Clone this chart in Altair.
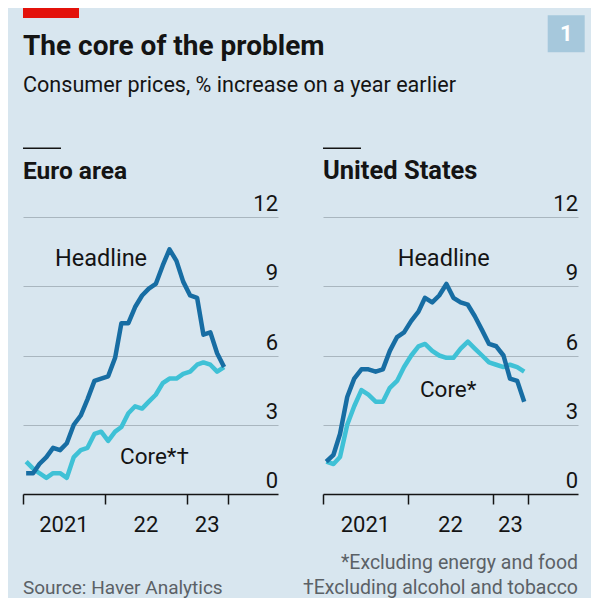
import altair as alt
import pandas as pd

# ---------------- data ----------------
ea_headline = [0.9, 0.9, 1.3, 1.6, 2.0, 1.9, 2.2, 3.0, 3.4, 4.1, 4.9, 5.0,
               5.1, 5.9, 7.4, 7.4, 8.1, 8.6, 8.9, 9.1, 9.9, 10.6, 10.1, 9.2,
               8.6, 8.5, 6.9, 7.0, 6.1, 5.5]
ea_core = [1.4, 1.1, 0.9, 0.7, 0.9, 0.9, 0.7, 1.6, 1.9, 2.0, 2.6, 2.7,
           2.3, 2.7, 2.9, 3.5, 3.8, 3.7, 4.0, 4.3, 4.8, 5.0, 5.0, 5.2,
           5.3, 5.6, 5.7, 5.6, 5.3, 5.5]
us_headline = [1.4, 1.7, 2.6, 4.2, 5.0, 5.4, 5.4, 5.3, 5.4, 6.2, 6.8, 7.0,
               7.5, 7.9, 8.5, 8.3, 8.6, 9.1, 8.5, 8.3, 8.2, 7.7, 7.1, 6.5,
               6.4, 6.0, 5.0, 4.9, 4.0]
us_core = [1.4, 1.3, 1.6, 3.0, 3.8, 4.5, 4.3, 4.0, 4.0, 4.6, 4.9, 5.5,
           6.0, 6.4, 6.5, 6.2, 6.0, 5.9, 5.9, 6.3, 6.6, 6.3, 6.0, 5.7,
           5.6, 5.5, 5.6, 5.5, 5.3]
y_ticks = [0, 3, 6, 9, 12]
y_tick_labels = ["0", "3", "6", "9", "12"]
year_labels = ["2021", "22", "23"]

TITLE = "The core of the problem"
SUBTITLE = "Consumer prices, % increase on a year earlier"

# ---------------- style ----------------
BG = "#d8e6ef"
DARK = "#176da3"
CYAN = "#3fc1d6"
INK = "#141414"
GREY = "#5b6166"
GRID = "#a9b6bf"
FONT = "Roboto"
W, H = 255, 277


def dates(n):
    return [f"{2021 + i // 12}-{i % 12 + 1:02d}-15" for i in range(n)]


def dt(y, m, d):
    return alt.DateTime(year=y, month=m, date=d, utc=True)


def panel(headline, core, name, name_size, dom_end, last_tick, year_pos,
          head_xy, core_text, core_xy, core_align, extras):
    xs = alt.Scale(type="utc", domain=[dt(2021, 1, 1), dom_end])
    xaxis = alt.Axis(values=[dt(2021, 1, 1), dt(2022, 1, 1), dt(2023, 1, 1), last_tick],
                     labels=False, tickSize=10, tickWidth=1.5, tickColor=INK,
                     domainColor=INK, domainWidth=1.5, grid=False, title=None)
    ys = alt.Scale(domain=[0, 12], nice=False)
    yaxis = alt.Axis(values=[3, 6, 9, 12], grid=True, gridColor=GRID, gridWidth=1,
                     labels=False, ticks=False, domain=False, title=None)
    X = alt.X("date:T", scale=xs, axis=xaxis)
    Y = alt.Y("value:Q", scale=ys, axis=yaxis)

    dcore = pd.DataFrame({"date": dates(len(core)), "value": core})
    dhead = pd.DataFrame({"date": dates(len(headline)), "value": headline})

    core_line = alt.Chart(dcore).mark_line(color=CYAN, strokeWidth=4.5, strokeJoin="round").encode(x=X, y=Y)
    head_line = alt.Chart(dhead).mark_line(color=DARK, strokeWidth=4.5, strokeJoin="round").encode(x=X, y=Y)

    ylab = alt.Chart(pd.DataFrame({"value": y_ticks, "t": y_tick_labels})).mark_text(
        align="right", baseline="alphabetic", dy=-6, fontSize=22, font=FONT, color=INK
    ).encode(x=alt.value(W), y=Y, text="t:N")

    xlab = alt.Chart(pd.DataFrame({"date": year_pos, "t": year_labels})).mark_text(
        align="center", baseline="alphabetic", fontSize=22, font=FONT, color=INK
    ).encode(x=X, y=alt.value(315), text="t:N")

    def txt(s, x, y, size=23.5, bold=False, align="left", color=INK, baseline="alphabetic"):
        return alt.Chart(pd.DataFrame({"t": [s]})).mark_text(
            align=align, baseline=baseline, fontSize=size, font=FONT,
            fontWeight="bold" if bold else "normal", color=color
        ).encode(x=alt.value(x), y=alt.value(y), text="t:N")

    rule = alt.Chart(pd.DataFrame({"t": [0]})).mark_rule(color=INK, strokeWidth=1.5).encode(
        x=alt.value(0), x2=alt.value(38), y=alt.value(-68.7))

    layers = [core_line, head_line, ylab, xlab, rule,
              txt(name, 0, -38, size=name_size, bold=True),
              txt("Headline", head_xy[0], head_xy[1], align="center"),
              txt(core_text, core_xy[0], core_xy[1], size=22.5, align=core_align)]
    for e in extras:
        layers.append(e(txt))
    return alt.layer(*layers).properties(width=W, height=H)


def ea_extras():
    def red(txt):
        return alt.Chart(pd.DataFrame({"t": [0]})).mark_rect(color="#e3120b").encode(
            x=alt.value(0), x2=alt.value(56), y=alt.value(-209), y2=alt.value(-199))
    return [red,
            lambda txt: txt(TITLE, 0, -162, size=28, bold=True),
            lambda txt: txt(SUBTITLE, 0, -124.7, size=21.6),
            lambda txt: txt("Source: Haver Analytics", 0, 376.6, size=19, color=GREY)]


def us_extras():
    def box(txt):
        return alt.Chart(pd.DataFrame({"t": [0]})).mark_rect(color="#a6c8dc").encode(
            x=alt.value(224.7), x2=alt.value(261.7), y=alt.value(-201.7), y2=alt.value(-164.7))
    return [box,
            lambda txt: txt("1", 243.2, -183.2, size=22, bold=True, align="center",
                            color="#ffffff", baseline="middle"),
            lambda txt: txt("*Excluding energy and food", W, 351.6, size=19.5, align="right", color=GREY),
            lambda txt: txt("\u2020Excluding alcohol and tobacco", W, 376.6, size=19.5, align="right", color=GREY)]


ea = panel(ea_headline, ea_core, "Euro area", 24.5, dt(2024, 2, 10), dt(2023, 7, 1),
           ["2021-07-02", "2022-07-02", "2023-04-01"],
           (78, 49.3), "Core*\u2020", (97, 246.6), "left", ea_extras())
us = panel(us_headline, us_core, "United States", 25.5, dt(2024, 1, 1), dt(2023, 6, 1),
           ["2021-07-02", "2022-07-02", "2023-03-17"],
           (120.7, 49.3), "Core*", (125.2, 180), "center", us_extras())

chart = alt.hconcat(ea, us, spacing=45, bounds="flush").properties(
    padding={"left": 14, "top": 0, "right": 6, "bottom": 0}
).configure(background=BG).configure_view(strokeWidth=0)

chart.save("out.html", embed_options={"renderer": "svg", "actions": False})
